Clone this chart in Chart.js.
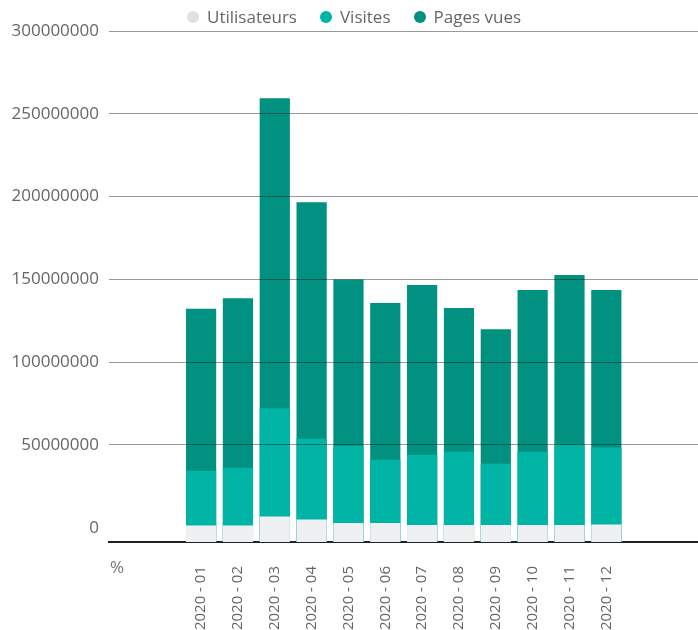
<!DOCTYPE html>
<html lang="fr">
<head>
<meta charset="utf-8">
<title>Utilisateurs, visites et pages vues 2020</title>
<script src="https://cdn.jsdelivr.net/npm/chart.js@4.4.1/dist/chart.umd.min.js"></script>
<style>
  html, body { margin: 0; padding: 0; background: #fff; overflow: hidden; }
  #wrap { position: relative; width: 714px; height: 630px; }
  #legend { position: absolute; top: 5px; left: 187px; display: flex; font: 17px "Open Sans", sans-serif; color: #666; }
  .legend-item { display: flex; align-items: center; margin-right: 23px; }
  .legend-dot { width: 12px; height: 12px; border-radius: 50%; margin-right: 8px; }
  #unit { position: absolute; left: 110px; top: 555px; font: 17px "Open Sans", sans-serif; color: #777; }
</style>
</head>
<body>
<div id="wrap">
  <canvas id="barChart" width="714" height="630"></canvas>
  <div id="legend"></div>
  <div id="unit">%</div>
</div>
<script>
// Data
const months = ['2020 - 01', '2020 - 02', '2020 - 03', '2020 - 04', '2020 - 05', '2020 - 06',
    '2020 - 07', '2020 - 08', '2020 - 09', '2020 - 10', '2020 - 11', '2020 - 12'];
const utilisateurs = [1400000, 1400000, 6800000, 5000000, 2800000, 2800000,
    1600000, 1600000, 1600000, 1600000, 1600000, 1900000];
const visites = [34500000, 36300000, 72100000, 53800000, 49600000, 41100000,
    44100000, 45900000, 38700000, 45900000, 50200000, 48400000];
const pagesVues = [132300000, 138600000, 259400000, 196600000, 149900000, 135700000,
    146600000, 132700000, 119900000, 143600000, 152600000, 143600000];
const yTicks = [0, 50000000, 100000000, 150000000, 200000000, 250000000, 300000000];

const seriesNames = ['Utilisateurs', 'Visites', 'Pages vues'];
const barColors = ['#eff0f2', '#00b5a6', '#009180'];
const dotColors = ['#dfe0e3', '#00b5a6', '#009180'];

// axis goes a bit below zero, bars start from the axis line
const yMin = -8600000;

// two empty slots before and after the months
const labels = ['', '', ...months, '', ''];
const pad = arr => [null, null, ...arr, null, null];

// Legend
document.getElementById('legend').innerHTML = seriesNames.map((name, i) => `
    <div class="legend-item">
        <span class="legend-dot" style="background:${dotColors[i]}"></span>
        <span>${name}</span>
    </div>`).join('');

const ctx = document.getElementById('barChart').getContext('2d');
new Chart(ctx, {
    type: 'bar',
    data: {
        labels: labels,
        datasets: [utilisateurs, visites, pagesVues].map((values, i) => ({
            label: seriesNames[i],
            data: pad(values),
            backgroundColor: barColors[i],
            base: yMin,
            barPercentage: 0.82,
            categoryPercentage: 1
        }))
    },
    options: {
        responsive: false,
        animation: false,
        layout: { padding: { left: 10, top: 31, right: 0, bottom: 0 } },
        plugins: {
            legend: { display: false }
        },
        scales: {
            x: {
                stacked: true,
                grid: { display: false },
                border: { color: '#222', width: 2 },
                ticks: {
                    minRotation: 90,
                    maxRotation: 90,
                    autoSkip: false,
                    padding: 16,
                    color: '#666',
                    font: { family: 'Open Sans', size: 15 }
                },
                afterFit: scale => { scale.height = 88; }
            },
            y: {
                min: yMin,
                max: yTicks[yTicks.length - 1],
                afterBuildTicks: axis => {
                    axis.ticks = yTicks.map(v => ({ value: v }));
                },
                grid: {
                    z: 1,
                    drawTicks: false,
                    color: c => c.tick && c.tick.value === 0 ? 'rgba(0,0,0,0)' : 'rgba(0,0,0,0.4)'
                },
                border: { display: false },
                ticks: {
                    padding: 10,
                    color: '#666',
                    font: { family: 'Open Sans', size: 17 },
                    callback: value => String(value)
                },
                afterFit: scale => { scale.width = 99; }
            }
        }
    }
});
</script>
</body>
</html>
